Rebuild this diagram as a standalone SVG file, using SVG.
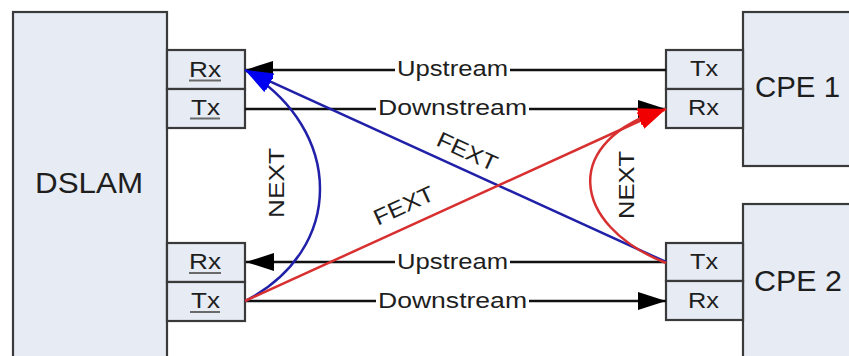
<svg xmlns="http://www.w3.org/2000/svg" width="849" height="356" viewBox="0 0 849 356">
  <defs>
    <marker id="arrowBlack" viewBox="0 0 28 18" refX="28" refY="9" markerWidth="28" markerHeight="18" markerUnits="userSpaceOnUse" orient="auto">
      <path d="M0,0 L28,9 L0,18 z" fill="#000"/>
    </marker>
    <marker id="arrowBlue" viewBox="0 0 28 18" refX="28" refY="9" markerWidth="28" markerHeight="18" markerUnits="userSpaceOnUse" orient="auto">
      <path d="M0,0 L28,9 L0,18 z" fill="#0000f0"/>
    </marker>
    <marker id="arrowRed" viewBox="0 0 28 18" refX="28" refY="9" markerWidth="28" markerHeight="18" markerUnits="userSpaceOnUse" orient="auto">
      <path d="M0,0 L28,9 L0,18 z" fill="#f00000"/>
    </marker>
  </defs>
  <style>
    .box { fill: #e6ebf4; stroke: #3a3a3a; stroke-width: 2.2; }
    .port { fill: #e6ebf4; stroke: #3a3a3a; stroke-width: 2.2; }
    .big { font-family: "Liberation Sans", Arial, sans-serif; font-size: 30px; fill: #1e1e1e; }
    .lbl { font-family: "Liberation Sans", Arial, sans-serif; font-size: 22px; fill: #1e1e1e; }
    .ul { stroke: #6a6a6a; stroke-width: 2; }
    .wire { stroke: #111; stroke-width: 2.5; fill: none; }
    .blue { stroke: #2020a8; stroke-width: 2.5; fill: none; }
    .red { stroke: #d83030; stroke-width: 2.5; fill: none; }
  </style>
  <rect width="849" height="356" fill="#fff"/>

  <!-- DSLAM with its four ports -->
  <g id="dslam">
    <rect class="box" x="13" y="12" width="154" height="360"/>
    <text class="big" x="35" y="193" textLength="108" lengthAdjust="spacingAndGlyphs">DSLAM</text>
  </g>
  <g id="dslam-rx1">
    <rect class="port" x="167" y="50" width="78" height="39"/>
    <text class="lbl" x="189" y="77" textLength="32" lengthAdjust="spacingAndGlyphs">Rx</text>
    <line class="ul" x1="189" y1="80.5" x2="221" y2="80.5"/>
  </g>
  <g id="dslam-tx1">
    <rect class="port" x="167" y="89" width="78" height="39"/>
    <text class="lbl" x="191" y="115" textLength="29" lengthAdjust="spacingAndGlyphs">Tx</text>
    <line class="ul" x1="190" y1="118.5" x2="220" y2="118.5"/>
  </g>
  <g id="dslam-rx2">
    <rect class="port" x="167" y="243" width="78" height="39"/>
    <text class="lbl" x="189" y="269" textLength="32" lengthAdjust="spacingAndGlyphs">Rx</text>
    <line class="ul" x1="189" y1="273" x2="221" y2="273"/>
  </g>
  <g id="dslam-tx2">
    <rect class="port" x="167" y="282" width="78" height="39"/>
    <text class="lbl" x="191" y="308" textLength="29" lengthAdjust="spacingAndGlyphs">Tx</text>
    <line class="ul" x1="190" y1="312" x2="220" y2="312"/>
  </g>

  <!-- CPE 1 -->
  <g id="cpe1">
    <rect class="box" x="743" y="12" width="120" height="154"/>
    <text class="big" x="755" y="97" textLength="85" lengthAdjust="spacingAndGlyphs">CPE 1</text>
  </g>
  <g id="cpe1-tx">
    <rect class="port" x="666" y="50" width="77" height="39"/>
    <text class="lbl" x="690" y="76" textLength="28" lengthAdjust="spacingAndGlyphs">Tx</text>
  </g>
  <g id="cpe1-rx">
    <rect class="port" x="666" y="89" width="77" height="39"/>
    <text class="lbl" x="688" y="115" textLength="31" lengthAdjust="spacingAndGlyphs">Rx</text>
  </g>

  <!-- CPE 2 -->
  <g id="cpe2">
    <rect class="box" x="743" y="204" width="120" height="170"/>
    <text class="big" x="754" y="291" textLength="88" lengthAdjust="spacingAndGlyphs">CPE 2</text>
  </g>
  <g id="cpe2-tx">
    <rect class="port" x="666" y="243" width="77" height="38"/>
    <text class="lbl" x="690" y="269" textLength="28" lengthAdjust="spacingAndGlyphs">Tx</text>
  </g>
  <g id="cpe2-rx">
    <rect class="port" x="666" y="281" width="77" height="39"/>
    <text class="lbl" x="688" y="308" textLength="31" lengthAdjust="spacingAndGlyphs">Rx</text>
  </g>

  <!-- connectors -->
  <g id="connectors">
    <!-- line 1: upstream / downstream -->
    <line class="wire" x1="666" y1="70" x2="510" y2="70"/>
    <line class="wire" x1="395" y1="70" x2="245" y2="70" marker-end="url(#arrowBlack)"/>
    <text class="lbl" x="397" y="76" textLength="111" lengthAdjust="spacingAndGlyphs">Upstream</text>
    <line class="wire" x1="245" y1="109" x2="376" y2="109"/>
    <line class="wire" x1="529" y1="109" x2="666" y2="109" marker-end="url(#arrowBlack)"/>
    <text class="lbl" x="378" y="115" textLength="149" lengthAdjust="spacingAndGlyphs">Downstream</text>

    <!-- line 2: upstream / downstream -->
    <line class="wire" x1="666" y1="262" x2="510" y2="262"/>
    <line class="wire" x1="395" y1="262" x2="246" y2="262" marker-end="url(#arrowBlack)"/>
    <text class="lbl" x="397" y="269" textLength="111" lengthAdjust="spacingAndGlyphs">Upstream</text>
    <line class="wire" x1="245" y1="301" x2="376" y2="301"/>
    <line class="wire" x1="529" y1="301" x2="666" y2="301" marker-end="url(#arrowBlack)"/>
    <text class="lbl" x="378" y="308" textLength="149" lengthAdjust="spacingAndGlyphs">Downstream</text>

    <!-- crosstalk into DSLAM Rx (blue) -->
    <path class="blue" d="M245,301 C345,250 345,130 245,70" marker-end="url(#arrowBlue)"/>
    <line class="blue" x1="666" y1="262" x2="245" y2="70" marker-end="url(#arrowBlue)"/>

    <!-- crosstalk into CPE 1 Rx (red) -->
    <line class="red" x1="245" y1="301" x2="666" y2="109" marker-end="url(#arrowRed)"/>
    <path class="red" d="M666,263 C570,225 560,140 666,109" marker-end="url(#arrowRed)"/>

    <text class="lbl" transform="translate(284,183) rotate(-90)" x="0" y="0" text-anchor="middle" textLength="70" lengthAdjust="spacingAndGlyphs">NEXT</text>
    <text class="lbl" transform="translate(634,185) rotate(-90)" x="0" y="0" text-anchor="middle" textLength="68" lengthAdjust="spacingAndGlyphs">NEXT</text>
    <text class="lbl" transform="translate(467,152) rotate(24.5)" x="0" y="7" text-anchor="middle" textLength="64" lengthAdjust="spacingAndGlyphs">FEXT</text>
    <text class="lbl" transform="translate(404,206) rotate(-24.5)" x="0" y="7" text-anchor="middle" textLength="64" lengthAdjust="spacingAndGlyphs">FEXT</text>
  </g>
</svg>
